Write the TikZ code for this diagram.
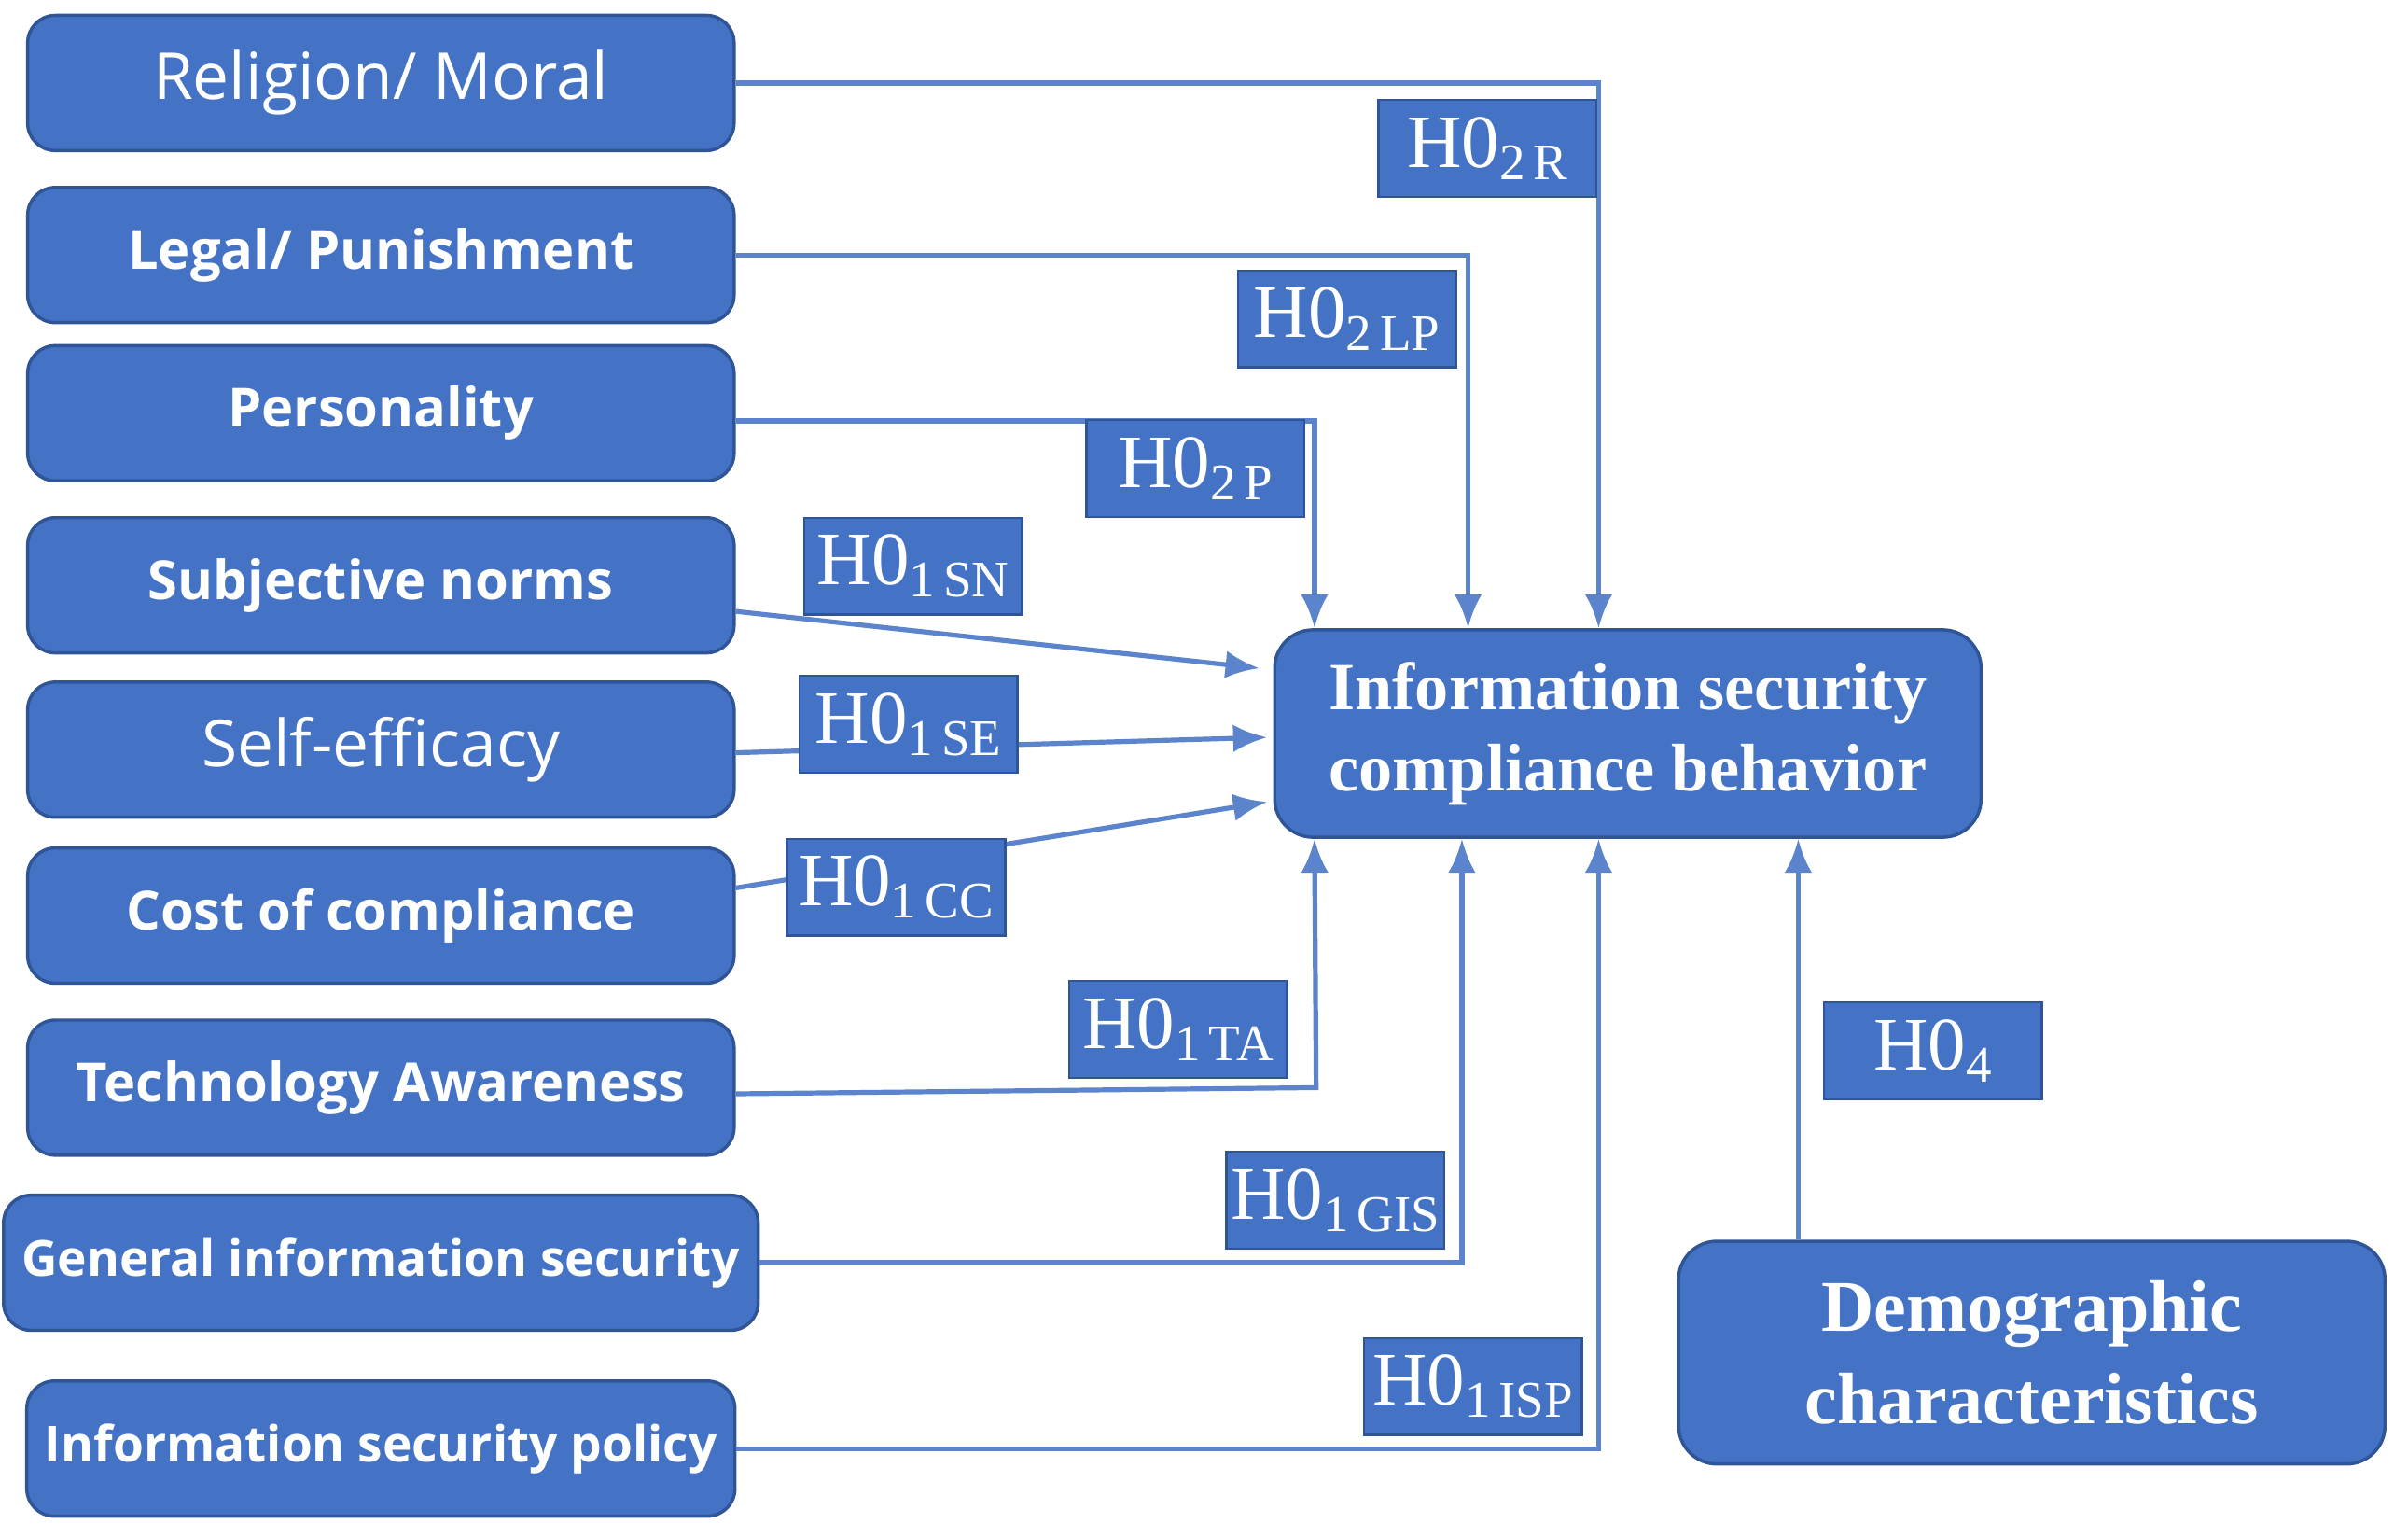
\documentclass[tikz,border=0pt]{standalone}
\usepackage{fontspec}
\setmainfont{Liberation Serif}
\newfontfamily\boxfont{Open Sans}
\usetikzlibrary{arrows.meta,calc}
\definecolor{bfill}{HTML}{4472C4}
\definecolor{bdraw}{HTML}{2F5597}
\definecolor{lcol}{HTML}{5B84CC}
\tikzset{
 box/.style={draw=bdraw,line width=0.6pt,fill=bfill,rounded corners=0.18cm,text=white,minimum width=4.6cm,minimum height=0.88cm,font=\boxfont\bfseries\fontsize{10}{12}\selectfont},
 hl/.style={draw=bdraw,line width=0.4pt,fill=bfill,text=white,minimum width=1.42cm,minimum height=0.63cm,inner sep=0pt,font=\fontsize{14}{16}\selectfont},
 cbox/.style={draw=bdraw,line width=0.6pt,fill=bfill,rounded corners=0.25cm,text=white,align=center,font=\bfseries\fontsize{12.5}{15}\selectfont},
 arr/.style={draw=lcol,line width=0.9pt,-{Latex[length=0.22cm,width=0.18cm]}},
}
\newcommand{\hsub}[2]{H0\raisebox{-0.35ex}{\fontsize{9.5}{10}\selectfont #1\,#2}}
\begin{document}
\begin{tikzpicture}
\useasboundingbox (0,0) rectangle (15.68,-10.01);
\node[box,font=\boxfont\fontsize{12}{14}\selectfont] (rel) at (2.48,-0.54) {Religion/ Moral};
\node[box] (leg) at (2.48,-1.66) {Legal/ Punishment};
\node[box] (per) at (2.48,-2.69) {Personality};
\node[box] (sn) at (2.48,-3.81) {Subjective norms};
\node[box,font=\boxfont\fontsize{12}{14}\selectfont] (se) at (2.48,-4.88) {Self-efficacy};
\node[box] (cc) at (2.48,-5.96) {Cost of compliance};
\node[box] (ta) at (2.48,-7.08) {Technology Awareness};
\node[box,font=\boxfont\bfseries\fontsize{9.2}{11}\selectfont] (gis) at (2.48,-8.22) {General information security};
\node[box,font=\boxfont\bfseries\fontsize{9.2}{11}\selectfont] (isp) at (2.48,-9.43) {Information security policy};
\node[cbox,minimum width=4.6cm,minimum height=1.35cm] (ce) at (10.60,-4.775) {Information security\\compliance behavior};
\node[cbox,minimum width=4.6cm,minimum height=1.45cm,font=\bfseries\fontsize{13.5}{17}\selectfont] (dem) at (13.23,-8.805) {Demographic\\characteristics};
% connectors
\coordinate (nR) at ($(ce.north west)+(2.12,0)$);
\coordinate (nL) at ($(ce.north west)+(1.27,0)$);
\coordinate (nP) at ($(ce.north west)+(0.27,0)$);
\coordinate (sTA) at ($(ce.south west)+(0.27,0)$);
\coordinate (sG) at ($(ce.south west)+(1.23,0)$);
\coordinate (sI) at ($(ce.south west)+(2.12,0)$);
\coordinate (sD) at ($(ce.south west)+(3.42,0)$);
\draw[arr] (rel.east) -| (nR);
\draw[arr] (leg.east) -| (nL);
\draw[arr] ([yshift=-0.05cm]per.east) -| (nP);
\draw[arr] ([yshift=-0.17cm]sn.east) -- (8.20,-4.35);
\draw[arr] ([yshift=-0.02cm]se.east) -- (8.25,-4.80);
\draw[arr] ([yshift=0.18cm]cc.east) -- (8.25,-5.22);
\draw[arr] ([yshift=-0.04cm]ta.east) -- (8.57,-7.08) -- (sTA);
\draw[arr] (gis.east) -| (sG);
\draw[arr] (isp.east) -| (sI);
\draw[arr] (dem.north -| sD) -- (sD);
% labels
\node[hl] at (9.685,-0.965) {\hsub{2}{R}};
\node[hl] at (8.77,-2.075) {\hsub{2}{LP}};
\node[hl] at (7.785,-3.05) {\hsub{2}{P}};
\node[hl] at (5.945,-3.685) {\hsub{1}{SN}};
\node[hl] at (5.915,-4.715) {\hsub{1}{SE}};
\node[hl] at (5.835,-5.775) {\hsub{1}{CC}};
\node[hl] at (7.67,-6.70) {\hsub{1}{TA}};
\node[hl] at (8.695,-7.815) {\hsub{1}{GIS}};
\node[hl] at (9.59,-9.025) {\hsub{1}{ISP}};
\node[hl] at (12.585,-6.84) {H0\raisebox{-0.35ex}{\fontsize{9.5}{10}\selectfont 4}};
\end{tikzpicture}
\end{document}
